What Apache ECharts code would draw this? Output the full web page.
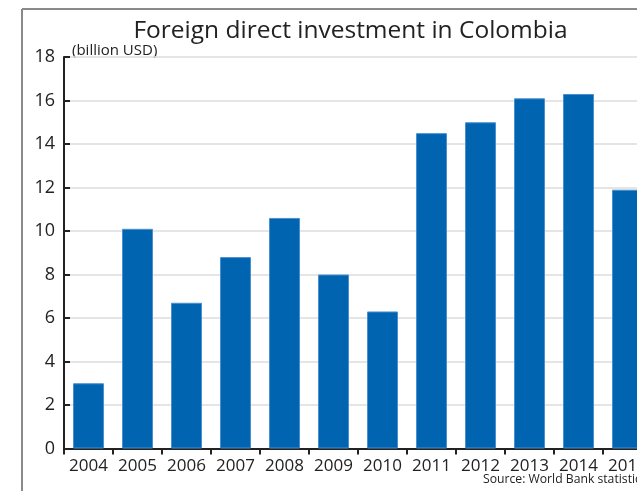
<!DOCTYPE html>
<html>
<head>
<meta charset="utf-8">
<script src="https://cdn.jsdelivr.net/npm/echarts@6/dist/echarts.min.js"></script>
<style>
html,body{margin:0;padding:0;background:#fff;overflow:hidden;}
#c{width:700px;height:491px;}
</style>
</head>
<body>
<div id="c"></div>
<script>
const titleText = 'Foreign direct investment in Colombia';
const unitText = '(billion USD)';
const sourceText = 'Source: World Bank statistics';
const years = ['2004','2005','2006','2007','2008','2009','2010','2011','2012','2013','2014','2015'];
const fdi = [3.0, 10.1, 6.7, 8.8, 10.6, 8.0, 6.3, 14.5, 15.0, 16.1, 16.3, 11.9];

const chart = echarts.init(document.getElementById('c'), null, {renderer:'canvas'});
const font = '"Open Sans", "Noto Sans", sans-serif';
chart.setOption({
  animation:false,
  backgroundColor:'#fff',
  title:{
    text:titleText, left:345.5, top:14, textAlign:'center',
    textStyle:{fontFamily:font, fontSize:24.5, fontWeight:'normal', color:'#222'}
  },
  grid:{left:64, top:57, width:588, height:391.5, containLabel:false},
  xAxis:{
    type:'category', data:years,
    axisLine:{lineStyle:{color:'#222', width:2}},
    axisTick:{show:true, length:6, lineStyle:{color:'#222', width:2}},
    axisLabel:{fontFamily:font, fontSize:17, color:'#222', margin:9, interval:0}
  },
  yAxis:{
    type:'value', min:0, max:18, interval:2,
    axisLine:{show:true, lineStyle:{color:'#222', width:2}},
    axisTick:{show:true, inside:true, length:6, lineStyle:{color:'#222', width:2}},
    axisLabel:{fontFamily:font, fontSize:18, color:'#222', margin:9},
    splitLine:{show:true, lineStyle:{color:'#dcdcdc', width:1.5}}
  },
  series:[{
    type:'bar', data:fdi, barWidth:31,
    itemStyle:{color:'#0064b1', borderColor:'#4a8fd0', borderWidth:1}
  }],
  graphic:[
    {type:'line', shape:{x1:22, y1:9, x2:22, y2:491}, style:{stroke:'#8a8a8a', lineWidth:2}},
    {type:'line', shape:{x1:22, y1:9, x2:700, y2:9}, style:{stroke:'#8a8a8a', lineWidth:2}},
    {type:'text', left:72, top:43, style:{text:unitText, font:'15px "Open Sans", sans-serif', fill:'#222'}},
    {type:'text', left:483, top:474, style:{text:sourceText, font:'12.2px "Open Sans", sans-serif', fill:'#222'}}
  ]
});
</script>
</body>
</html>
